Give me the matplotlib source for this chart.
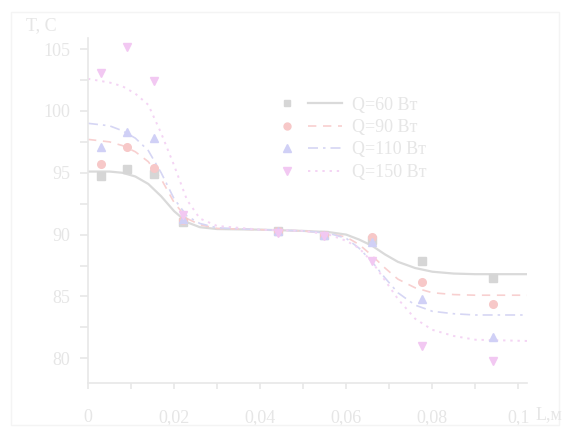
import numpy as np
import matplotlib
matplotlib.use('Agg')
import matplotlib.pyplot as plt
from matplotlib.lines import Line2D
from matplotlib.legend_handler import HandlerTuple
from matplotlib.patches import Rectangle

# measured points, L in m, T in C
L_points = [0.003, 0.009, 0.0153, 0.0221, 0.0442, 0.0549, 0.066, 0.0777, 0.0942]
T60_points = [94.7, 95.3, 94.9, 91.0, 90.3, 90.0, 89.6, 87.9, 86.5]
T90_points = [95.7, 97.1, 95.4, 91.2, 90.3, 90.0, 89.8, 86.2, 84.4]
T110_points = [97.1, 98.3, 97.8, 91.3, 90.3, 90.0, 89.4, 84.8, 81.7]
T150_points = [103.1, 105.2, 102.4, 91.6, 90.1, 89.9, 87.9, 81.0, 79.8]

# fitted curves
L_curve = [0, 0.005, 0.008, 0.011, 0.014, 0.017, 0.02, 0.023, 0.026, 0.03, 0.04, 0.05,
           0.056, 0.06, 0.063, 0.066, 0.069, 0.072, 0.076, 0.08, 0.085, 0.09, 0.102]
T60_curve = [95.1, 95.1, 95.0, 94.7, 94.1, 93.1, 91.9, 91.0, 90.6, 90.45, 90.4, 90.3,
             90.2, 90.0, 89.6, 89.1, 88.4, 87.8, 87.3, 87.0, 86.85, 86.8, 86.8]
T90_curve = [97.7, 97.5, 97.2, 96.7, 95.9, 94.5, 92.6, 91.3, 90.8, 90.5, 90.4, 90.3,
             90.1, 89.8, 89.2, 88.3, 87.3, 86.4, 85.7, 85.3, 85.15, 85.1, 85.1]
T110_curve = [99.0, 98.8, 98.4, 97.8, 96.8, 95.0, 92.9, 91.5, 90.9, 90.55, 90.4, 90.3,
              90.1, 89.7, 88.9, 87.8, 86.5, 85.3, 84.3, 83.8, 83.6, 83.5, 83.5]
T150_curve = [102.6, 102.3, 102.0, 101.4, 100.5, 98.2, 95.6, 92.8, 91.3, 90.7, 90.4, 90.3,
              90.0, 89.5, 88.9, 87.8, 86.3, 84.8, 83.2, 82.3, 81.8, 81.5, 81.4]

labels = ['Q=60 Вт', 'Q=90 Вт', 'Q=110 Вт', 'Q=150 Вт']
x_ticks = [0, 0.02, 0.04, 0.06, 0.08, 0.1]
x_ticklabels = ['0', '0,02', '0,04', '0,06', '0,08', '0,1']
y_ticks = [80, 85, 90, 95, 100, 105]

plt.rcParams['font.family'] = ['Liberation Serif', 'DejaVu Serif']
txt = '#e6e6e6'
axc = '#e8e8e8'

fig = plt.figure(figsize=(5.69, 4.29), dpi=100)
ax = fig.add_axes([88 / 569, 1 - 383 / 429, 439 / 569, 345 / 429])

styles = [
    dict(lc='#dadada', mc='#d6d6d6', ls='-', lw=1.6, m='s', ms=5.5),
    dict(lc='#f8d0d0', mc='#f7c8c8', ls=(0, (5, 4)), lw=1.2, m='o', ms=5.5),
    dict(lc='#d6d6f4', mc='#d0d0f6', ls=(0, (6, 3, 1.5, 3)), lw=1.2, m='^', ms=6),
    dict(lc='#f4d4f4', mc='#f2c8f2', ls=(0, (1.2, 2.5)), lw=1.4, m='v', ms=6),
]
curves = [T60_curve, T90_curve, T110_curve, T150_curve]
points = [T60_points, T90_points, T110_points, T150_points]

handles = []
for st, tc, tp in zip(styles, curves, points):
    ax.plot(L_curve, tc, color=st['lc'], linestyle=st['ls'], linewidth=st['lw'], zorder=2)
    ax.plot(L_points, tp, linestyle='none', marker=st['m'], markersize=st['ms'],
            color=st['mc'], zorder=3)
    mh = Line2D([], [], linestyle='none', marker=st['m'], markersize=st['ms'] - 0.5, color=st['mc'])
    lh = Line2D([], [], color=st['lc'], linestyle=st['ls'], linewidth=st['lw'])
    handles.append((mh, lh))

ax.set_xlim(0, 0.102)
ax.set_xticks(x_ticks)
ax.set_xticklabels(x_ticklabels)
ax.set_xticks(np.arange(0.01, 0.1, 0.02), minor=True)
ax.set_yticks(y_ticks)
ax.set_yticks(np.arange(77.5, 106, 5), minor=True)
ax.set_ylim(78, 105.9)

for s in ['top', 'right']:
    ax.spines[s].set_visible(False)
for s in ['left', 'bottom']:
    ax.spines[s].set_color(axc)
    ax.spines[s].set_linewidth(1.2)
ax.tick_params(axis='y', which='both', direction='out', length=6, width=1.2, color=axc,
               labelcolor=txt, labelsize=13, pad=7)
ax.tick_params(axis='x', which='both', direction='out', length=4, width=1.2, color=axc,
               labelcolor=txt, labelsize=13, pad=15)

leg = ax.legend(handles, labels, handler_map={tuple: HandlerTuple(ndivide=2, pad=0.2)},
                loc='upper left', bbox_to_anchor=(0.415, 0.83), frameon=False,
                borderpad=0, borderaxespad=0, handlelength=4.0, handletextpad=0.55,
                labelspacing=0.3, fontsize=13)
for t in leg.get_texts():
    t.set_color(txt)

fig.text(41 / 569, 1 - 26 / 429, 'T, C', color=txt, fontsize=13, ha='center', va='center')
fig.text(536 / 569, 1 - 415 / 429, 'L,м', color=txt, fontsize=13, ha='left', va='center')

fig.patches.append(Rectangle((11 / 569, 1 - 425 / 429), 548 / 569, 413 / 429,
                             transform=fig.transFigure, fill=False, edgecolor='#f4f4f4',
                             linewidth=1))

plt.savefig('out.png', dpi=100)
